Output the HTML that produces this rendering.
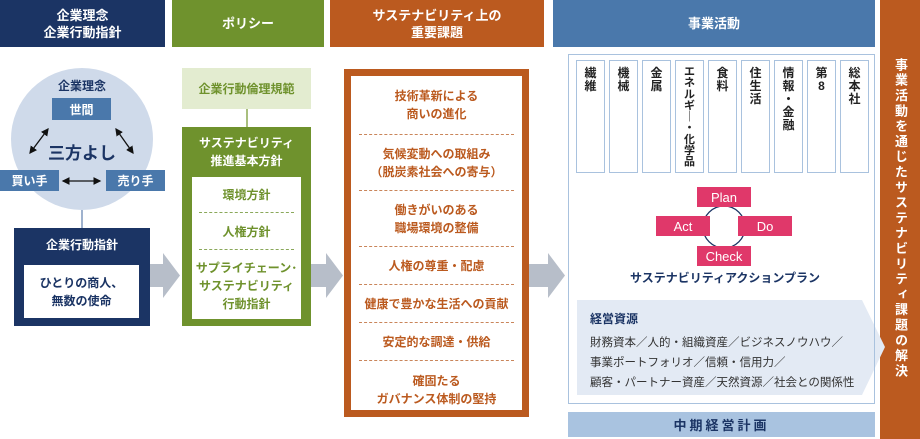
<!DOCTYPE html>
<html><head><meta charset="utf-8"><style>
*{margin:0;padding:0;box-sizing:border-box}
body{width:920px;height:439px;background:#fff;position:relative;overflow:hidden;font-family:"Liberation Sans","Noto Sans CJK JP",sans-serif;font-weight:bold}
.a{position:absolute}
.c{display:flex;align-items:center;justify-content:center;text-align:center}
.hd{color:#fff;font-size:13px;line-height:17px;top:0;height:47px}
.dash{border-top:1px dashed #c9855a}
.gd{border-top:1px dashed #8aa85a}
.col{top:60px;width:29px;height:113px;border:1px solid #a9c2de;font-size:12px;color:#222;text-align:center;padding-top:6px;line-height:13px}
.pd{background:#e0386a;color:#fff;font-weight:normal;font-size:13px;width:54px;height:20px}
</style></head><body>
<div class="a c hd" style="left:0;width:165px;background:#1b3464">企業理念<br>企業行動指針</div>
<div class="a c hd" style="left:172px;width:152px;background:#6f922d">ポリシー</div>
<div class="a c hd" style="left:330px;width:214px;background:#bb5a1f">サステナビリティ上の<br>重要課題</div>
<div class="a c hd" style="left:553px;width:322px;background:#4a78ab">事業活動</div>
<div class="a" style="left:880px;top:0;width:40px;height:439px;background:#bb5a1f"></div>
<div class="a" style="left:891px;top:58px;writing-mode:vertical-rl;color:#fff;font-size:13px;line-height:18px;letter-spacing:2.3px">事業活動を通じたサステナビリティ課題の解決</div>

<!-- col1 -->
<div class="a" style="left:11px;top:68px;width:142px;height:142px;border-radius:50%;background:#cfdaea"></div>
<div class="a c" style="left:40px;top:77px;width:84px;font-size:12px;color:#1b3464">企業理念</div>
<div class="a c" style="left:52px;top:98px;width:59px;height:22px;background:#4a78ab;color:#fff;font-size:12px">世間</div>
<div class="a c" style="left:36px;top:139px;width:92px;font-size:17px;color:#1b3464">三方よし</div>
<div class="a c" style="left:0;top:170px;width:59px;height:21px;background:#4a78ab;color:#fff;font-size:12px">買い手</div>
<div class="a c" style="left:106px;top:170px;width:59px;height:21px;background:#4a78ab;color:#fff;font-size:12px">売り手</div>
<svg class="a" style="left:0;top:0" width="920" height="439">
<defs><marker id="m" markerWidth="6" markerHeight="6" refX="5" refY="3" orient="auto-start-reverse"><path d="M0,0L6,3L0,6z" fill="#111"/></marker></defs>
<line x1="48" y1="129" x2="30" y2="153" stroke="#111" stroke-width="1.3" marker-start="url(#m)" marker-end="url(#m)"/>
<line x1="116" y1="129" x2="133" y2="153" stroke="#111" stroke-width="1.3" marker-start="url(#m)" marker-end="url(#m)"/>
<line x1="63" y1="181" x2="100" y2="181" stroke="#111" stroke-width="1.3" marker-start="url(#m)" marker-end="url(#m)"/>
<line x1="82" y1="210" x2="82" y2="228" stroke="#7f99bd" stroke-width="1.5"/>
<line x1="247" y1="109" x2="247" y2="127" stroke="#a9bf7e" stroke-width="2"/>
<path d="M150,264H163V253L180,275.5L163,298V287H150z" fill="#b7bec9"/>
<path d="M311,264H326V253L343,275.5L326,298V287H311z" fill="#b7bec9"/>
<path d="M529,264H548V253L565,275.5L548,298V287H529z" fill="#b7bec9"/>
<path d="M577,300H862L885,347L862,395H577z" fill="#e3eaf4"/>
<circle cx="724" cy="227" r="21" fill="none" stroke="#1b3464" stroke-width="1.3"/>
</svg>
<div class="a" style="left:14px;top:228px;width:136px;height:98px;background:#1b3464"></div>
<div class="a c" style="left:14px;top:236px;width:136px;color:#fff;font-size:12px">企業行動指針</div>
<div class="a c" style="left:24px;top:265px;width:115px;height:53px;background:#fff;color:#1b3464;font-size:12px;line-height:18px">ひとりの商人、<br>無数の使命</div>

<!-- col2 -->
<div class="a c" style="left:182px;top:68px;width:129px;height:41px;background:#e3ecd0;color:#6f922d;font-size:12px">企業行動倫理規範</div>
<div class="a" style="left:182px;top:127px;width:129px;height:199px;background:#6f922d"></div>
<div class="a c" style="left:182px;top:134px;width:129px;color:#fff;font-size:12px;line-height:18px">サステナビリティ<br>推進基本方針</div>
<div class="a" style="left:192px;top:177px;width:109px;height:142px;background:#fff"></div>
<div class="a c" style="left:192px;top:186px;width:109px;color:#6f922d;font-size:12px">環境方針</div>
<div class="a gd" style="left:199px;top:212px;width:95px"></div>
<div class="a c" style="left:192px;top:223px;width:109px;color:#6f922d;font-size:12px">人権方針</div>
<div class="a gd" style="left:199px;top:249px;width:95px"></div>
<div class="a c" style="left:192px;top:259px;width:109px;color:#6f922d;font-size:12px;line-height:18px">サプライチェーン･<br>サステナビリティ<br>行動指針</div>

<!-- col3 -->
<div class="a" style="left:344px;top:69px;width:185px;height:348px;border:7px solid #bb5a1f;background:#fff"></div>
<div style="position:absolute;left:351px;top:76px;width:171px;color:#bb5a1f;font-size:12px;line-height:18px;text-align:center">
<div class="c" style="height:58px">技術革新による<br>商いの進化</div>
<div class="dash" style="margin:0 8px"></div>
<div class="c" style="height:55px">気候変動への取組み<br>（脱炭素社会への寄与）</div>
<div class="dash" style="margin:0 8px"></div>
<div class="c" style="height:55px">働きがいのある<br>職場環境の整備</div>
<div class="dash" style="margin:0 8px"></div>
<div class="c" style="height:37px">人権の尊重・配慮</div>
<div class="dash" style="margin:0 8px"></div>
<div class="c" style="height:37px">健康で豊かな生活への貢献</div>
<div class="dash" style="margin:0 8px"></div>
<div class="c" style="height:37px">安定的な調達・供給</div>
<div class="dash" style="margin:0 8px"></div>
<div class="c" style="height:58px">確固たる<br>ガバナンス体制の堅持</div>
</div>

<!-- col4 -->
<div class="a" style="left:568px;top:54px;width:307px;height:350px;border:1px solid #a9c2de"></div>
<div class="a col" style="left:576px">繊<br>維</div>
<div class="a col" style="left:609px">機<br>械</div>
<div class="a col" style="left:642px">金<br>属</div>
<div class="a col" style="left:675px;font-size:11px;line-height:11.3px">エ<br>ネ<br>ル<br>ギ<br>｜<br>・<br>化<br>学<br>品</div>
<div class="a col" style="left:708px">食<br>料</div>
<div class="a col" style="left:741px">住<br>生<br>活</div>
<div class="a col" style="left:774px">情<br>報<br>・<br>金<br>融</div>
<div class="a col" style="left:807px">第<br>8</div>
<div class="a col" style="left:840px">総<br>本<br>社</div>
<div class="a c pd" style="left:697px;top:187px">Plan</div>
<div class="a c pd" style="left:656px;top:216px">Act</div>
<div class="a c pd" style="left:738px;top:216px">Do</div>
<div class="a c pd" style="left:697px;top:246px">Check</div>
<div class="a c" style="left:600px;top:269px;width:250px;font-size:12px;color:#1b3464">サステナビリティアクションプラン</div>
<div class="a" style="left:590px;top:310px;font-size:12px;color:#1b3464">経営資源</div>
<div class="a" style="left:590px;top:333px;font-size:11.5px;font-weight:normal;color:#333;line-height:20px">財務資本／人的・組織資産／ビジネスノウハウ／<br>事業ポートフォリオ／信頼・信用力／<br>顧客・パートナー資産／天然資源／社会との関係性</div>
<div class="a c" style="left:568px;top:412px;width:307px;height:25px;background:#a9c3e0;color:#1b3464;font-size:13px;letter-spacing:3px">中期経営計画</div>
</body></html>
